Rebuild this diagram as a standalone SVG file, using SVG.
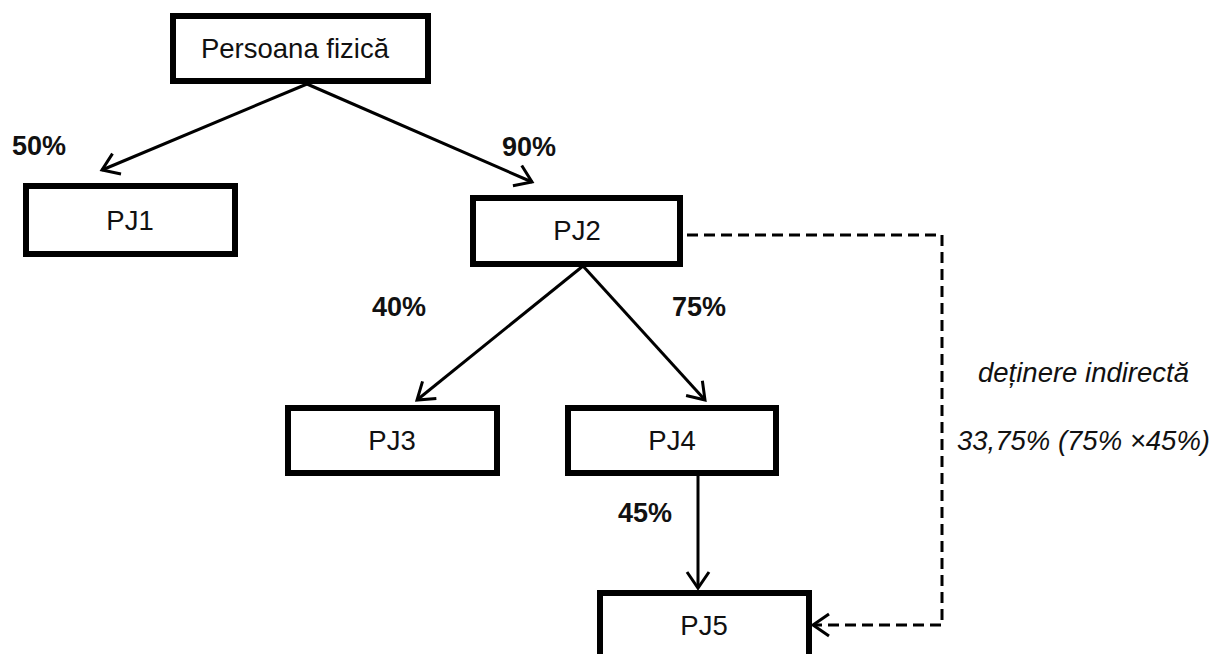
<svg xmlns="http://www.w3.org/2000/svg" width="1220" height="654" viewBox="0 0 1220 654">
<style>
.box{fill:#fff;stroke:#000;stroke-width:6}
.lbl{font-family:"Liberation Sans",Arial,sans-serif;font-size:27.5px;fill:#111;text-anchor:middle}
.pct{font-family:"Liberation Sans",Arial,sans-serif;font-size:27px;font-weight:bold;fill:#111}
.note{font-family:"Liberation Sans",Arial,sans-serif;font-size:27.5px;font-style:italic;fill:#111}
.edge{fill:none;stroke:#000;stroke-width:3}
.dash{fill:none;stroke:#000;stroke-width:3;stroke-dasharray:11,6}
</style>
<defs>
<marker id="arr" markerUnits="userSpaceOnUse" markerWidth="40" markerHeight="40" viewBox="-20 -20 40 40" refX="0" refY="0" orient="auto" overflow="visible">
<path d="M-16,-11 L0,0 L-16,11" fill="none" stroke="#000" stroke-width="3"/>
</marker>
</defs>
<g id="connectors">
<line class="edge" x1="307" y1="84" x2="102" y2="170" marker-end="url(#arr)"/>
<line class="edge" x1="307" y1="84" x2="532" y2="182" marker-end="url(#arr)"/>
<line class="edge" x1="583" y1="266" x2="417" y2="400" marker-end="url(#arr)"/>
<line class="edge" x1="583" y1="266" x2="705" y2="400" marker-end="url(#arr)"/>
<line class="edge" x1="698" y1="474" x2="698" y2="588" marker-end="url(#arr)"/>
<path class="dash" d="M687,235 H942 V625 H813" marker-end="url(#arr)"/>
<text class="pct" x="12" y="155">50%</text>
<text class="pct" x="502" y="156">90%</text>
<text class="pct" x="372" y="316">40%</text>
<text class="pct" x="672" y="316">75%</text>
<text class="pct" x="618" y="522">45%</text>
<text class="note" x="978" y="382">deținere indirectă</text>
<text class="note" x="957" y="450">33,75% (75% ×45%)</text>
</g>
<g id="persoana">
<rect class="box" x="173" y="16" width="255" height="65"/>
<text class="lbl" x="295" y="58">Persoana fizică</text>
</g>
<g id="pj1">
<rect class="box" x="26" y="186" width="209" height="68"/>
<text class="lbl" x="130" y="230">PJ1</text>
</g>
<g id="pj2">
<rect class="box" x="473" y="198" width="207" height="66"/>
<text class="lbl" x="577" y="240">PJ2</text>
</g>
<g id="pj3">
<rect class="box" x="288" y="408" width="209" height="65"/>
<text class="lbl" x="392" y="450">PJ3</text>
</g>
<g id="pj4">
<rect class="box" x="568" y="408" width="208" height="65"/>
<text class="lbl" x="672" y="450">PJ4</text>
</g>
<g id="pj5">
<rect class="box" x="600" y="593" width="209" height="70"/>
<text class="lbl" x="704" y="635">PJ5</text>
</g>
</svg>
